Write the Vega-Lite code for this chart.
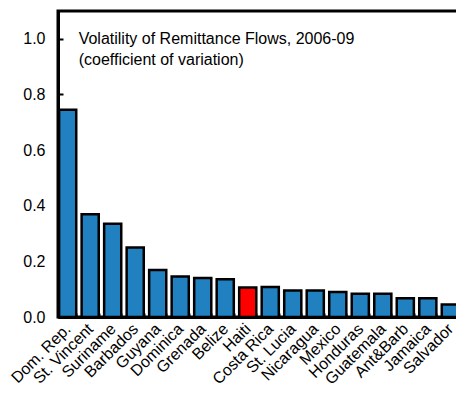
{
  "$schema": "https://vega.github.io/schema/vega-lite/v6.json",
  "autosize": "none",
  "padding": {"left": 58, "top": 11, "right": 0, "bottom": 86},
  "width": 402,
  "height": 306,
  "config": {
    "font": "Liberation Sans",
    "view": {"stroke": "black", "strokeWidth": 3}
  },
  "layer": [
    {
      "data": {
        "values": [
          {"country": "Dom. Rep.", "cv": 0.745, "highlight": "no"},
          {"country": "St. Vincent", "cv": 0.369, "highlight": "no"},
          {"country": "Suriname", "cv": 0.335, "highlight": "no"},
          {"country": "Barbados", "cv": 0.25, "highlight": "no"},
          {"country": "Guyana", "cv": 0.169, "highlight": "no"},
          {"country": "Dominica", "cv": 0.146, "highlight": "no"},
          {"country": "Grenada", "cv": 0.14, "highlight": "no"},
          {"country": "Belize", "cv": 0.136, "highlight": "no"},
          {"country": "Haiti", "cv": 0.106, "highlight": "yes"},
          {"country": "Costa Rica", "cv": 0.108, "highlight": "no"},
          {"country": "St. Lucia", "cv": 0.095, "highlight": "no"},
          {"country": "Nicaragua", "cv": 0.095, "highlight": "no"},
          {"country": "Mexico", "cv": 0.09, "highlight": "no"},
          {"country": "Honduras", "cv": 0.084, "highlight": "no"},
          {"country": "Guatemala", "cv": 0.084, "highlight": "no"},
          {"country": "Ant&Barb", "cv": 0.067, "highlight": "no"},
          {"country": "Jamaica", "cv": 0.067, "highlight": "no"},
          {"country": "Salvador", "cv": 0.045, "highlight": "no"}
        ]
      },
      "mark": {"type": "bar", "stroke": "black", "strokeWidth": 2.5},
      "encoding": {
        "x": {
          "field": "country",
          "type": "nominal",
          "sort": null,
          "scale": {"paddingInner": 0.24, "paddingOuter": 0.05},
          "axis": {
            "title": null,
            "labelAngle": -45,
            "labelAlign": "right",
            "labelBaseline": "middle",
            "labelFontSize": 16,
            "labelColor": "black",
            "labelPadding": 13,
            "ticks": true,
            "tickBand": "extent",
            "tickSize": -4,
            "tickWidth": 2,
            "tickColor": "black",
            "domain": true,
            "domainColor": "black",
            "domainWidth": 3
          }
        },
        "y": {
          "field": "cv",
          "type": "quantitative",
          "scale": {"domain": [0, 1.1], "nice": false},
          "axis": {
            "title": null,
            "values": [0, 0.2, 0.4, 0.6, 0.8, 1.0],
            "format": ".1f",
            "grid": false,
            "domainColor": "black",
            "domainWidth": 3,
            "tickColor": "black",
            "tickWidth": 2,
            "tickSize": -5,
            "labelFontSize": 16,
            "labelColor": "black",
            "labelPadding": 18
          }
        },
        "fill": {
          "field": "highlight",
          "type": "nominal",
          "scale": {"domain": ["no", "yes"], "range": ["#2080C0", "#FF0000"]},
          "legend": null
        }
      }
    },
    {
      "data": {"values": [{"note": "title"}]},
      "mark": {
        "type": "text",
        "align": "left",
        "baseline": "top",
        "fontSize": 16,
        "fontWeight": "normal",
        "lineHeight": 21,
        "dx": 11,
        "dy": -8,
        "fill": "black"
      },
      "encoding": {
        "x": {"datum": "Dom. Rep."},
        "y": {"datum": 1.0},
        "text": {"value": ["Volatility of Remittance Flows, 2006-09", "(coefficient of variation)"]}
      }
    }
  ]
}
